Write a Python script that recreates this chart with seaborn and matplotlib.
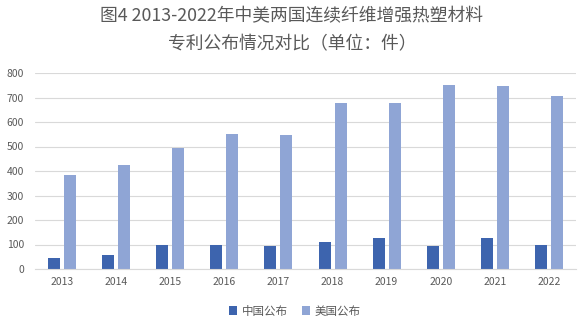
import matplotlib
matplotlib.use("Agg")
import matplotlib.pyplot as plt
import seaborn as sns
import pandas as pd

years = ["2013", "2014", "2015", "2016", "2017", "2018", "2019", "2020", "2021", "2022"]
china = [46, 58, 100, 100, 92, 111, 128, 95, 128, 100]
usa = [385, 426, 495, 552, 548, 679, 679, 752, 748, 707]
series_names = ["中国公布", "美国公布"]
colors = ["#3D64AE", "#8FA5D5"]

df = pd.DataFrame({
    "year": years * 2,
    "value": china + usa,
    "series": [series_names[0]] * len(years) + [series_names[1]] * len(years),
})

sns.set_theme(style="white")
plt.rcParams['font.family'] = ['Noto Sans CJK SC', 'DejaVu Sans']

fig = plt.figure(figsize=(5.87, 3.26), dpi=100)
ax = fig.add_axes([35/587, 1 - 269/326, (576-35)/587, (269-73)/326])

sns.barplot(data=df, x="year", y="value", hue="series", palette=colors,
            width=0.59, gap=0.25, ax=ax, saturation=1, legend=True, linewidth=0)

ax.set_ylim(0, 800)
ax.set_yticks(range(0, 801, 100))
ax.set_xlim(-0.5, len(years) - 0.5)
ax.yaxis.grid(True, color="#D9D9D9", linewidth=0.8)
ax.set_axisbelow(True)
for s in ["top", "right", "left"]:
    ax.spines[s].set_visible(False)
ax.spines["bottom"].set_color("#D9D9D9")
ax.spines["bottom"].set_linewidth(0.8)
ax.tick_params(axis="both", length=0, labelsize=7.5, colors="#595959")
ax.tick_params(axis="x", pad=6)
ax.tick_params(axis="y", pad=8)
ax.set_xlabel("")
ax.set_ylabel("")

fig.text(291/587, 1 - 16/326, "图4 2013-2022年中美两国连续纤维增强热塑材料",
         ha="center", va="center", fontsize=12.8, color="#595959")
fig.text(292/587, 1 - 44/326, "专利公布情况对比（单位：件）",
         ha="center", va="center", fontsize=12.8, color="#595959")

handles, labels = ax.get_legend_handles_labels()
ax.legend_.remove()
fig.legend(handles, labels, loc="center", bbox_to_anchor=(295/587, 1 - 311/326), ncol=2,
           frameon=False, fontsize=8.3, labelcolor="#595959", handlelength=0.7,
           handleheight=0.7, handletextpad=0.4, columnspacing=1.2)

fig.savefig("out.png", dpi=100)
